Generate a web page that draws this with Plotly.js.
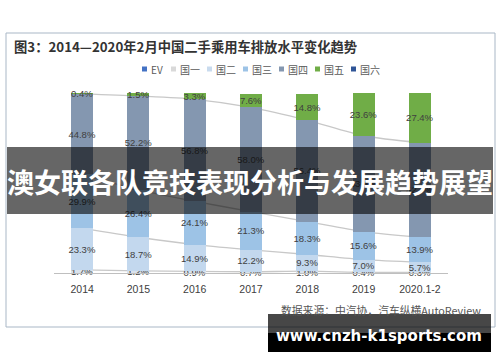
<!DOCTYPE html>
<html>
<head>
<meta charset="utf-8">
<script src="https://cdn.plot.ly/plotly-3.0.1.min.js"></script>
<style>html,body{margin:0;padding:0;background:#fff}#chart{width:500px;height:362px}</style>
</head>
<body>
<div id="chart"></div>
<script>
// ---- data ----
var years = ['2014', '2015', '2016', '2017', '2018', '2019', '2020.1-2'];
var seriesNames = ['EV', '国一', '国二', '国三', '国四', '国五', '国六'];
var ev    = [0, 0, 0, 0, 0, 0, 0];
var guo1  = [1.7, 1.2, 0.9, 0.7, 1.0, 0.4, 0.3];
var guo2  = [23.3, 18.7, 14.9, 12.2, 9.3, 7.0, 5.7];
var guo3  = [29.9, 26.4, 24.1, 21.3, 18.3, 15.6, 13.9];
var guo4  = [44.8, 52.2, 56.8, 58.0, 56.4, 53.4, 52.7];
var guo5  = [0.4, 1.5, 3.3, 7.6, 14.8, 23.6, 27.4];
var guo6  = [0, 0, 0, 0, 0, 0, 0];
var titleText = '图3：2014—2020年2月中国二手乘用车排放水平变化趋势';
var sourceText = '数据来源：中汽协，汽车纵横AutoReview';
var bannerText = '澳女联各队竞技表现分析与发展趋势展望';
var watermarkText = 'www.cnzh-k1sports.com';

// ---- styles ----
var colors = {
  'EV': '#4472c4', '国一': '#d9e2ec', '国二': '#c3d8ee', '国三': '#9dc3e6',
  '国四': '#8497b0', '国五': '#70ad47', '国六': '#2f5597'
};
var legendColors = {
  'EV': '#4472c4', '国一': '#d9d9d9', '国二': '#c9dbee', '国三': '#9dc3e6',
  '国四': '#8497b0', '国五': '#70ad47', '国六': '#2f5597'
};
var W = 500, H = 362;
function X(x) { return x / W; }
function Y(y) { return 1 - y / H; }

var stackOrder = [['EV', ev], ['国一', guo1], ['国二', guo2], ['国三', guo3], ['国四', guo4], ['国五', guo5], ['国六', guo6]];

var traces = [];
// connecting lines (behind bars, on base subplot)
var cum = years.map(function () { return 0; });
[guo1, guo2, guo3, guo4].forEach(function (arr) {
  cum = cum.map(function (c, i) { return c + arr[i]; });
  traces.push({
    type: 'scatter', mode: 'lines', x: years, y: cum.slice(),
    xaxis: 'x', yaxis: 'y',
    line: { color: '#c8c8c8', width: 1.3, shape: 'spline', smoothing: 0.8 },
    hoverinfo: 'skip', showlegend: false
  });
});
// bars (overlay subplot drawn above lines)
stackOrder.forEach(function (s) {
  var name = s[0], vals = s[1];
  traces.push({
    type: 'bar', name: name, x: years, y: vals,
    xaxis: 'x', yaxis: 'y2', width: 0.39,
    marker: { color: colors[name], line: { width: 0 } },
    text: vals.map(function (v) { return v > 0 ? v.toFixed(1) + '%' : ''; }),
    textposition: 'inside', insidetextanchor: 'middle', textangle: 0,
    constraintext: 'none', cliponaxis: false,
    textfont: { family: 'Liberation Sans, Arial, sans-serif', size: 9.5, color: '#404040' },
    insidetextfont: { family: 'Liberation Sans, Arial, sans-serif', size: 9.5, color: '#404040' },
    hoverinfo: 'skip', showlegend: false
  });
});

var shapes = [], annotations = [];
// frame
shapes.push({ type: 'rect', xref: 'paper', yref: 'paper', x0: X(6), x1: X(495), y0: Y(33), y1: Y(327),
  line: { color: '#a9b7c6', width: 1 }, fillcolor: 'rgba(0,0,0,0)', layer: 'below' });
// title
annotations.push({ xref: 'paper', yref: 'paper', x: X(12), y: Y(47), xanchor: 'left', yanchor: 'middle',
  text: titleText, showarrow: false,
  font: { family: 'Noto Sans CJK SC, sans-serif', size: 13.3, color: '#333333', weight: 'bold' } });
// custom legend
seriesNames.forEach(function (n, i) {
  var sx = i === 0 ? 142 : 171 + (i - 1) * 36;
  shapes.push({ type: 'rect', xref: 'paper', yref: 'paper', x0: X(sx), x1: X(sx + 5), y0: Y(71.5), y1: Y(66.5),
    line: { width: 0 }, fillcolor: legendColors[n], layer: 'above' });
  annotations.push({ xref: 'paper', yref: 'paper', x: X(sx + 6.5), y: Y(69), xanchor: 'left', yanchor: 'middle',
    text: n, showarrow: false,
    font: { family: 'Noto Sans CJK SC, Liberation Sans, sans-serif', size: 10, color: '#595959' } });
});
// source
annotations.push({ xref: 'paper', yref: 'paper', x: X(483), y: Y(310), xanchor: 'right', yanchor: 'middle',
  text: sourceText, showarrow: false,
  font: { family: 'Noto Sans CJK SC, sans-serif', size: 10.8, color: '#555555' } });
// banner
shapes.push({ type: 'rect', xref: 'paper', yref: 'paper', x0: X(7), x1: X(493), y0: Y(214), y1: Y(147),
  line: { width: 0 }, fillcolor: 'rgba(0,0,0,0.6)', layer: 'above' });
annotations.push({ xref: 'paper', yref: 'paper', x: X(250), y: Y(181), xanchor: 'center', yanchor: 'middle',
  text: bannerText, showarrow: false,
  font: { family: 'Noto Sans CJK SC, sans-serif', size: 27, color: '#ffffff', weight: 'bold' } });
// watermark
shapes.push({ type: 'rect', xref: 'paper', yref: 'paper', x0: X(268), x1: X(491), y0: Y(333), y1: Y(314),
  line: { width: 0 }, fillcolor: 'rgba(0,0,0,0.72)', layer: 'above' });
shapes.push({ type: 'rect', xref: 'paper', yref: 'paper', x0: X(268), x1: X(491), y0: Y(352), y1: Y(333),
  line: { width: 0 }, fillcolor: '#000000', layer: 'above' });
annotations.push({ xref: 'paper', yref: 'paper', x: X(379), y: Y(336), xanchor: 'center', yanchor: 'middle',
  text: watermarkText, showarrow: false,
  font: { family: 'DejaVu Sans, sans-serif', size: 15, color: '#ffffff', weight: 'bold' } });

var layout = {
  width: W, height: H,
  margin: { l: 0, r: 0, t: 0, b: 0, pad: 0 },
  paper_bgcolor: '#ffffff', plot_bgcolor: 'rgba(0,0,0,0)',
  barmode: 'stack', showlegend: false,
  xaxis: {
    domain: [X(54), X(448)], type: 'category', range: [-0.5, 6.5],
    showline: true, linecolor: '#bfbfbf', linewidth: 1, showgrid: false, zeroline: false,
    ticks: '', tickfont: { family: 'Liberation Sans, Arial, sans-serif', size: 10.5, color: '#404040' },
    ticklabelstandoff: 6, fixedrange: true
  },
  yaxis: { domain: [Y(273), Y(93)], range: [0, 100.2], visible: false, fixedrange: true },
  yaxis2: { overlaying: 'y', range: [0, 100.2], visible: false, fixedrange: true },
  shapes: shapes, annotations: annotations
};

Plotly.newPlot('chart', traces, layout, { displayModeBar: false, staticPlot: true });
</script>
</body>
</html>
